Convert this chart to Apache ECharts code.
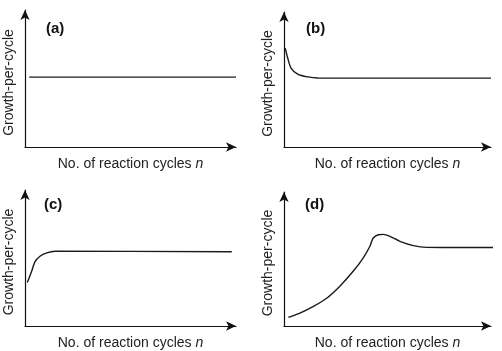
<!DOCTYPE html>
<html>
<head>
<meta charset="utf-8">
<script src="https://cdn.jsdelivr.net/npm/echarts@6/dist/echarts.min.js"></script>
<style>
html,body{margin:0;padding:0;background:#fff;}
#main{width:502px;height:351px;}
</style>
</head>
<body>
<div id="main"></div>
<script>
// curve points, x and y on a 0-100 scale
var dataA = [[2, 51], [100, 51]]
var dataB = [[0.6, 73.3], [1.8, 65.9], [3.4, 58.5], [6.6, 54], [11.5, 51.9], [16.4, 51.1], [100, 51]]
var dataC = [[1.1, 31.9], [3.2, 40.4], [4.7, 47.2], [7.1, 51.3], [10.3, 53.8], [14.2, 55], [98, 54.6]]
var dataD = [[2.1, 6.4], [7.7, 9.6], [14.2, 14.6], [20.6, 20.7], [27.1, 29.9], [33.5, 41], [38.3, 50.9],
    [41.5, 59.5], [43.1, 65.7], [45.6, 68.1], [48, 68.4], [51.2, 66.9], [56, 63.2], [62.5, 60],
    [68.9, 58.7], [80, 58.6], [104, 58.6]]
var panelLabels = ['(a)', '(b)', '(c)', '(d)']
var yName = 'Growth-per-cycle'
var xName = 'No. of reaction cycles {i|n}'

var font = 'Liberation Sans, Arial, sans-serif'
var grids = [
    {left: 25, top: 10, width: 211, height: 137},
    {left: 284, top: 12, width: 207, height: 135},
    {left: 25, top: 190, width: 211, height: 137},
    {left: 284, top: 192, width: 207, height: 135}
]
var labelPos = [[46, 21], [306, 21], [44, 197], [305, 197]]
var allData = [dataA, dataB, dataC, dataD]

function axisLine() {
    return {
        show: true,
        onZero: false,
        symbol: ['none', 'arrow'],
        symbolSize: [7, 10],
        lineStyle: {color: '#111', width: 1.2}
    }
}

var xAxes = [], yAxes = [], series = [], titles = []
for (let i = 0; i < 4; i++) {
    xAxes.push({
        type: 'value', gridIndex: i, min: 0, max: 100,
        axisLine: axisLine(), axisTick: {show: false}, axisLabel: {show: false}, splitLine: {show: false},
        name: xName, nameLocation: 'middle', nameGap: 10,
        nameTextStyle: {
            fontFamily: font, fontSize: 14, color: '#222', verticalAlign: 'top',
            rich: {i: {fontStyle: 'italic', fontFamily: font, fontSize: 14, color: '#222'}}
        }
    })
    yAxes.push({
        type: 'value', gridIndex: i, min: 0, max: 100,
        axisLine: axisLine(), axisTick: {show: false}, axisLabel: {show: false}, splitLine: {show: false},
        name: yName, nameLocation: 'middle', nameGap: 9,
        nameTextStyle: {fontFamily: font, fontSize: 14, color: '#222', padding: [0, 8, 0, 0]}
    })
    series.push({
        type: 'line', xAxisIndex: i, yAxisIndex: i,
        data: allData[i], smooth: i > 0 ? 0.3 : false, showSymbol: false, clip: false,
        lineStyle: {color: '#1a1a1a', width: 1.4}
    })
    titles.push({
        text: panelLabels[i], left: labelPos[i][0], top: labelPos[i][1], padding: 0,
        textStyle: {fontFamily: font, fontSize: 15, fontWeight: 'bold', color: '#111'}
    })
}

var chart = echarts.init(document.getElementById('main'))
chart.setOption({
    animation: false,
    backgroundColor: '#fff',
    title: titles,
    grid: grids,
    xAxis: xAxes,
    yAxis: yAxes,
    series: series
})
</script>
</body>
</html>
